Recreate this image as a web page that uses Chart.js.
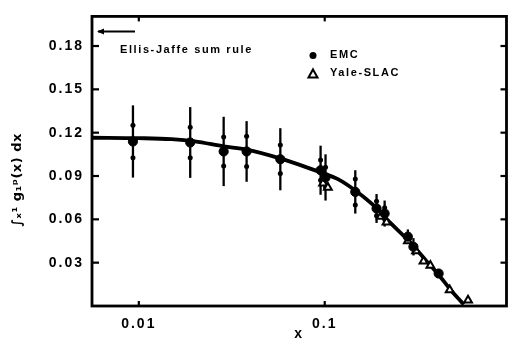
<!DOCTYPE html>
<html>
<head>
<meta charset="utf-8">
<script src="https://cdn.jsdelivr.net/npm/chart.js@4/dist/chart.umd.min.js"></script>
<style>
html,body{margin:0;padding:0;background:#fff;}
#wrap{width:513px;height:351px;}
</style>
</head>
<body>
<div id="wrap"><canvas id="c" width="513" height="351"></canvas></div>
<script>
// ---- data ----
const curveX = [0.0056, 0.01, 0.015, 0.02, 0.0286, 0.038, 0.058, 0.08, 0.1, 0.117, 0.146, 0.191, 0.216, 0.287, 0.353, 0.414, 0.47, 0.52, 0.56];
const curveY = [0.1165, 0.1162, 0.1155, 0.114, 0.1105, 0.1082, 0.102, 0.096, 0.0915, 0.088, 0.080, 0.0675, 0.060, 0.0443, 0.031, 0.021, 0.012, 0.0055, 0.001];

const emcX    = [0.0093, 0.0189, 0.0286, 0.038, 0.0577, 0.095, 0.101, 0.146, 0.19, 0.21, 0.28, 0.30, 0.41];
const emcY    = [0.1139, 0.1132, 0.107, 0.107, 0.1016, 0.094, 0.089, 0.079, 0.0675, 0.064, 0.048, 0.041, 0.0225];
const emcErr  = [0.025, 0.0245, 0.024, 0.021, 0.0215, 0.017, 0.016, 0.015, 0.010, 0.009, 0.005, 0.006, 0.003];
const emcStat = [0.0113, 0.0106, 0.010, 0.0105, 0.0099, 0.007, 0.007, 0.009, 0.005, 0.004, 0.0, 0.0, 0.0];

const slacX = [0.098, 0.104, 0.2, 0.215, 0.28, 0.31, 0.34, 0.37, 0.47, 0.59];
const slacY = [0.085, 0.082, 0.062, 0.058, 0.045, 0.038, 0.031, 0.028, 0.011, 0.004];

const xTickVals = [0.01, 0.1];
const xTickLabels = ['0.01', '0.1'];
const yTickVals = [0.03, 0.06, 0.09, 0.12, 0.15, 0.18];
const yTickLabels = ['0.03', '0.06', '0.09', '0.12', '0.15', '0.18'];
const sumRuleValue = 0.19;

const pts = (xs, ys) => xs.map((x, i) => ({x: x, y: ys[i]}));

Chart.defaults.font.family = '"Liberation Sans", Arial, sans-serif';
Chart.defaults.font.weight = 'bold';
Chart.defaults.font.size = 14;
Chart.defaults.color = '#000';

const decor = {
  id: 'decor',
  beforeDraw(chart) {
    chart.ctx.letterSpacing = '2px';
  },
  beforeDatasetsDraw(chart) {
    const ctx = chart.ctx, xs = chart.scales.x, ys = chart.scales.y;
    ctx.save();
    ctx.strokeStyle = '#000';
    ctx.fillStyle = '#000';
    ctx.lineWidth = 2.3;
    for (let i = 0; i < emcX.length; i++) {
      const px = xs.getPixelForValue(emcX[i]);
      const t = ys.getPixelForValue(emcY[i] + emcErr[i]);
      const b = ys.getPixelForValue(emcY[i] - emcErr[i]);
      ctx.beginPath(); ctx.moveTo(px, t); ctx.lineTo(px, b); ctx.stroke();
      if (emcStat[i] > 0) {
        [emcY[i] + emcStat[i], emcY[i] - emcStat[i]].forEach(v => {
          const py = ys.getPixelForValue(v);
          ctx.beginPath(); ctx.arc(px, py, 2.5, 0, Math.PI * 2); ctx.fill();
        });
      }
    }
    ctx.restore();
  },
  afterDraw(chart) {
    const ctx = chart.ctx, a = chart.chartArea, xs = chart.scales.x, ys = chart.scales.y;
    ctx.save();
    ctx.strokeStyle = '#000';
    ctx.fillStyle = '#000';
    // frame
    ctx.lineWidth = 2.8;
    ctx.strokeRect(a.left, a.top, a.right - a.left, a.bottom - a.top);
    // inward ticks
    ctx.lineWidth = 2.2;
    yTickVals.forEach(v => {
      const py = ys.getPixelForValue(v);
      ctx.beginPath(); ctx.moveTo(a.left, py); ctx.lineTo(a.left + 7, py); ctx.stroke();
      ctx.beginPath(); ctx.moveTo(a.right, py); ctx.lineTo(a.right - 6, py); ctx.stroke();
    });
    xTickVals.forEach(v => {
      const px = xs.getPixelForValue(v);
      ctx.beginPath(); ctx.moveTo(px, a.bottom); ctx.lineTo(px, a.bottom - 5); ctx.stroke();
      ctx.beginPath(); ctx.moveTo(px, a.top); ctx.lineTo(px, a.top + 5); ctx.stroke();
    });
    // sum-rule arrow
    const ay = ys.getPixelForValue(sumRuleValue);
    ctx.lineWidth = 2;
    ctx.beginPath(); ctx.moveTo(a.left + 6, ay); ctx.lineTo(a.left + 43, ay); ctx.stroke();
    ctx.beginPath(); ctx.moveTo(a.left + 5, ay); ctx.lineTo(a.left + 12, ay - 3); ctx.lineTo(a.left + 12, ay + 3); ctx.closePath(); ctx.fill();
    // texts
    ctx.font = 'bold 11px "Liberation Sans", Arial, sans-serif';
    ctx.letterSpacing = '1.6px';
    ctx.textBaseline = 'middle';
    ctx.textAlign = 'left';
    ctx.fillText('Ellis-Jaffe sum rule', a.left + 28, a.top + 34);
    // legend
    const lx = a.left + 221;
    ctx.beginPath(); ctx.arc(lx, a.top + 39, 3.5, 0, Math.PI * 2); ctx.fill();
    ctx.fillText('EMC', lx + 17, a.top + 39);
    ctx.lineWidth = 2;
    ctx.beginPath(); ctx.moveTo(lx, a.top + 53); ctx.lineTo(lx + 4.5, a.top + 61); ctx.lineTo(lx - 4.5, a.top + 61); ctx.closePath(); ctx.stroke();
    ctx.fillText('Yale-SLAC', lx + 17, a.top + 57);
    // y title (rotated)
    ctx.translate(18, 180);
    ctx.rotate(-Math.PI / 2);
    ctx.textAlign = 'center';
    ctx.letterSpacing = '0.5px';
    ctx.font = 'bold 13px "DejaVu Sans", sans-serif';
    ctx.fillText('\u222B\u2093\u00B9 g\u2081\u1D56(x) dx', 0, 0);
    ctx.restore();
  }
};

new Chart(document.getElementById('c'), {
  type: 'scatter',
  data: {
    datasets: [
      {
        label: 'fit',
        type: 'line',
        data: pts(curveX, curveY),
        borderColor: '#000',
        borderWidth: 3.8,
        pointRadius: 0,
        cubicInterpolationMode: 'monotone',
        fill: false,
        order: 3
      },
      {
        label: 'EMC',
        data: pts(emcX, emcY),
        pointStyle: 'circle',
        pointRadius: 4.6,
        backgroundColor: '#000',
        borderColor: '#000',
        borderWidth: 1,
        order: 1
      },
      {
        label: 'Yale-SLAC',
        data: pts(slacX, slacY),
        pointStyle: 'triangle',
        pointRadius: 4.5,
        backgroundColor: '#fff',
        borderColor: '#000',
        borderWidth: 2,
        order: 2
      }
    ]
  },
  options: {
    responsive: false,
    animation: false,
    layout: { padding: { top: 13, right: 3, left: 0, bottom: 0 } },
    plugins: { legend: { display: false }, tooltip: { enabled: false } },
    scales: {
      x: {
        type: 'logarithmic',
        min: 0.0056,
        max: 0.95,
        afterBuildTicks: s => { s.ticks = xTickVals.map(v => ({ value: v })); },
        afterFit: s => { s.height = 45; },
        ticks: {
          padding: 10,
          autoSkip: false,
          maxRotation: 0,
          callback: (v) => xTickLabels[xTickVals.indexOf(v)] ?? ''
        },
        grid: { display: true, drawOnChartArea: false, drawTicks: false },
        border: { display: false },
        title: { display: true, text: 'x', font: { size: 14, weight: 'bold' }, padding: { top: 0, bottom: 8 } }
      },
      y: {
        min: 0,
        max: 0.2005,
        afterBuildTicks: s => { s.ticks = yTickVals.map(v => ({ value: v })); },
        afterFit: s => { s.width = 92; },
        ticks: {
          padding: 8,
          callback: (v) => yTickLabels[yTickVals.findIndex(t => Math.abs(t - v) < 1e-9)] ?? ''
        },
        grid: { display: true, drawOnChartArea: false, drawTicks: false },
        border: { display: false }
      }
    }
  },
  plugins: [decor]
});
</script>
</body>
</html>
